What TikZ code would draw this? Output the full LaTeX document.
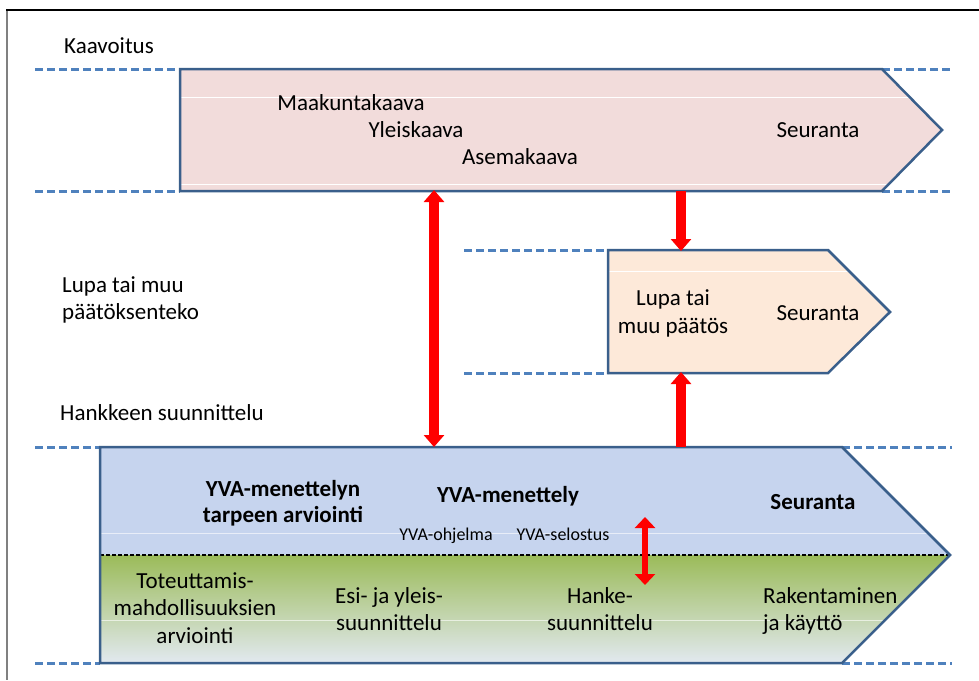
\documentclass[tikz,border=0pt]{standalone}
\usepackage{fontspec}
\setmainfont{Carlito}
\usetikzlibrary{arrows.meta}
\definecolor{pinkfill}{HTML}{F2DCDB}
\definecolor{peachfill}{HTML}{FDE9D9}
\definecolor{bluefill}{HTML}{C6D4EE}
\definecolor{greentop}{HTML}{9BBB59}
\definecolor{greenbot}{HTML}{E2E9F0}
\definecolor{shapeline}{HTML}{3A5F8B}
\definecolor{dashblue}{HTML}{4F81BD}
\definecolor{framegray}{HTML}{808080}
\newcommand\dfont{\fontsize{23}{27.5}\selectfont}
\newcommand\dbold{\fontsize{23}{26}\selectfont\bfseries}
\newcommand\dsmall{\fontsize{18}{20}\selectfont}
\newcommand\mylines[2][c]{\begin{tabular}[t]{@{}#1@{}}#2\end{tabular}}
\tikzset{
  guide/.style={draw=dashblue, line width=3pt, dash pattern=on 8pt off 4pt},
  outline/.style={draw=shapeline, line width=2.5pt, line join=miter},
  rowline/.style={draw=white, line width=0.8pt},
  lbl/.style={font=\dfont, inner sep=0pt, anchor=base},
  lblw/.style={font=\dfont, inner sep=0pt, anchor=base west},
  blbl/.style={font=\dbold, inner sep=0pt, anchor=base},
  slbl/.style={font=\dsmall, inner sep=0pt, anchor=base},
  redarrow/.style={draw=red, line width=10pt, -{Triangle[width=20pt,length=12pt]}},
  redboth/.style={draw=red, line width=10pt, {Triangle[width=20pt,length=12pt]}-{Triangle[width=20pt,length=12pt]}},
  redsmall/.style={draw=red, line width=6pt, {Triangle[width=20pt,length=11pt]}-{Triangle[width=20pt,length=11pt]}}
}
\begin{document}
\begin{tikzpicture}[x=1pt,y=-1pt]
\useasboundingbox (0,0) rectangle (979,680);
% frame
\draw[framegray, line width=2pt] (7,10) -- (7,680);
\draw[black, line width=1.5pt] (6,10) -- (979,10);

% guide lines
\draw[guide] (35,69) -- (180,69);
\draw[guide] (882,69) -- (952,69);
\draw[guide] (35,191) -- (180,191);
\draw[guide] (882,191) -- (952,191);
\draw[guide] (464,250) -- (608,250);
\draw[guide] (464,373) -- (608,373);
\draw[guide] (35,447) -- (100,447);
\draw[guide] (842,447) -- (952,447);
\draw[guide] (35,663) -- (100,663);
\draw[guide] (842,663) -- (952,663);

% top shape (Kaavoitus)
\fill[pinkfill] (180,69) -- (882,69) -- (942,130) -- (882,191) -- (180,191) -- cycle;
\draw[rowline] (181,97) -- (909,97);
\draw[rowline] (181,184) -- (888,184);
\draw[outline] (180,69) -- (882,69) -- (942,130) -- (882,191) -- (180,191) -- cycle;

% middle shape (Lupa)
\fill[peachfill] (608,250) -- (828,250) -- (890,312) -- (828,373) -- (608,373) -- cycle;
\draw[rowline] (609,271) -- (848,271);
\draw[outline] (608,250) -- (828,250) -- (890,312) -- (828,373) -- (608,373) -- cycle;

% bottom shape
\fill[bluefill] (100,447) -- (842,447) -- (950,555) -- (100,555) -- cycle;
\shade[top color=greentop, bottom color=greenbot] (100,555) -- (950,555) -- (842,663) -- (100,663) -- cycle;
\draw[rowline, draw opacity=0.6] (101,533) -- (928,533);
\draw[rowline, draw opacity=0.6] (101,620) -- (884,620);
\draw[black, line width=1.4pt, dash pattern=on 4pt off 2pt] (100,555) -- (950,555);
\draw[outline] (100,447) -- (842,447) -- (950,555) -- (842,663) -- (100,663) -- cycle;

% texts top
\node[lblw] (kaav) at (64,53) {Kaavoitus};
\node[lbl] (maak) at (351,110) {Maakuntakaava};
\node[lbl] (ylei) at (416,137) {Yleiskaava};
\node[lbl] (asem) at (520,164) {Asemakaava};
\node[lbl] (seur1) at (818,137) {Seuranta};

% texts middle
\node[lblw, font=\fontsize{23}{27}\selectfont] (lupalbl) at (62,292) {\mylines[l]{Lupa tai muu\\päätöksenteko}};
\node[lbl, font=\fontsize{23}{28}\selectfont] (lupa) at (673,305) {\mylines{Lupa tai\\muu päätös}};
\node[lbl] (seur2) at (818,320) {Seuranta};

% texts bottom
\node[lblw] (hank) at (60,420) {Hankkeen suunnittelu};
\node[blbl] (tarve) at (283,496) {\mylines{YVA-menettelyn\\tarpeen arviointi}};
\node[blbl] (yvam) at (508,502) {YVA-menettely};
\node[blbl] (seur3) at (813,509) {Seuranta};
\node[slbl] (ohj) at (446,540) {YVA-ohjelma};
\node[slbl] (sel) at (563,540) {YVA-selostus};
\node[lbl] (tot) at (195,588) {\mylines{Toteuttamis-\\mahdollisuuksien\\arviointi}};
\node[lbl, font=\fontsize{23}{27}\selectfont] (esi) at (389,603) {\mylines{Esi- ja yleis-\\suunnittelu}};
\node[lbl, font=\fontsize{23}{27}\selectfont] (hsuun) at (600,603) {\mylines{Hanke-\\suunnittelu}};
\node[lblw, font=\fontsize{23}{27}\selectfont] (rak) at (763,603) {\mylines[l]{Rakentaminen\\ja käyttö}};

% arrow anchor coordinates
\coordinate (aTop) at (434,190);
\coordinate (aBot) at (434,447);
\coordinate (dTop) at (681,191);
\coordinate (dBot) at (681,251);
\coordinate (uBot) at (681,447);
\coordinate (uTop) at (681,372);
\coordinate (sTop) at (645,517);
\coordinate (sBot) at (645,585);

\draw[redboth] (aTop) -- (aBot);
\draw[redarrow] (dTop) -- (dBot);
\draw[redarrow] (uBot) -- (uTop);
\draw[redsmall] (sTop) -- (sBot);
\end{tikzpicture}
\end{document}
